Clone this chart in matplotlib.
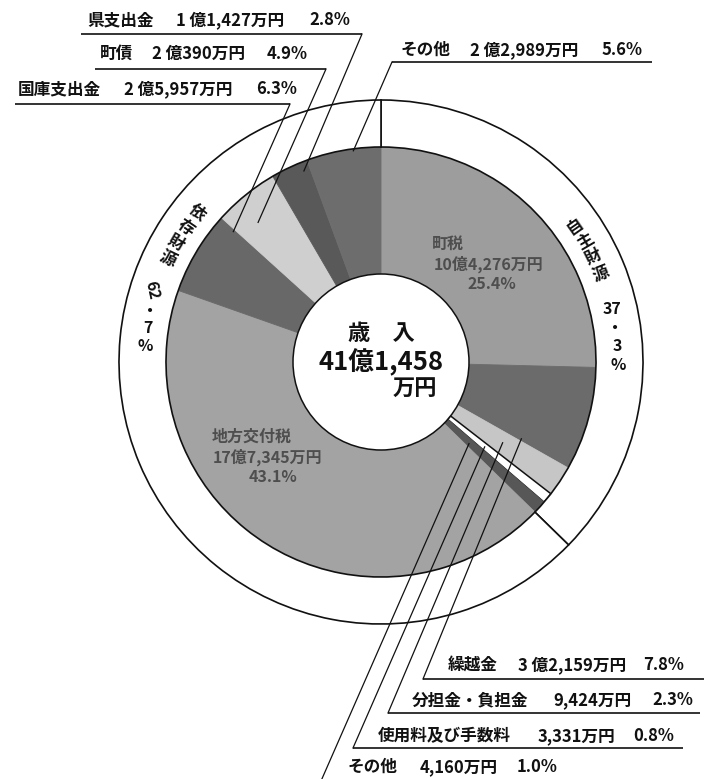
import numpy as np
import matplotlib
matplotlib.use('Agg')
import matplotlib.pyplot as plt
from matplotlib.patches import Circle

plt.rcParams['font.family'] = ['Noto Sans CJK JP', 'DejaVu Sans']

# ---------------- data ----------------
categories = ['町税', '繰越金', '分担金・負担金', '使用料及び手数料', 'その他',
              '地方交付税', '国庫支出金', '町債', '県支出金', 'その他']
amounts = ['10億4,276万円', '3 億2,159万円', '9,424万円', '3,331万円', '4,160万円',
           '17億7,345万円', '2 億5,957万円', '2 億390万円', '1 億1,427万円', '2 億2,989万円']
shares = [25.4, 7.8, 2.3, 0.8, 1.0, 43.1, 6.3, 4.9, 2.8, 5.6]
groups = ['自主財源', '依存財源']
group_shares = [37.3, 62.7]
center_title = '歳　入'
center_total = ['41億1,458', '万円']
colors = ['#9d9d9d', '#6b6b6b', '#c6c6c6', '#ffffff', '#575757',
          '#a3a3a3', '#686868', '#cfcfcf', '#595959', '#6d6d6d']

# ---------------- layout ----------------
W, H = 704, 779
fig = plt.figure(figsize=(W / 100, H / 100), dpi=100)
ax = fig.add_axes([0, 0, 1, 1])


def Y(y):  # pixel row -> data y
    return H - y


cx, cy = 381, Y(362)
R_in, R_pie, R_ring = 88, 215, 262

wedges, _ = ax.pie(shares, colors=colors, startangle=90, counterclock=False,
                   radius=R_pie, center=(cx, cy),
                   wedgeprops=dict(width=R_pie - R_in, linewidth=0.6))
for w, c in zip(wedges, colors):
    if c == '#ffffff':
        w.set_edgecolor('#111111')
        w.set_linewidth(1.1)
    else:
        w.set_edgecolor(c)

ring, _ = ax.pie(group_shares, colors=['white', 'white'], startangle=90,
                 counterclock=False, radius=R_ring, center=(cx, cy),
                 wedgeprops=dict(width=R_ring - R_pie, edgecolor='#111111',
                                 linewidth=1.2))
ax.add_patch(Circle((cx, cy), R_in, facecolor='white', edgecolor='#111111',
                    linewidth=1.1, zorder=3))

# slice angle spans (clockwise from top, degrees)
bounds = np.concatenate([[0], np.cumsum(shares)]) / 100 * 360


def pt(theta_cw, r):
    t = np.radians(theta_cw)
    return cx + r * np.sin(t), cy + r * np.cos(t)


# ---------------- external labels ----------------
# idx: (text_y, name_x, amount_x, pct_x, underline(x0,x1,y) or None, start(x,y), frac, r)
ext = {
    1: (665, 448, 518, 643, (423, 704, 679), (423, 679), 0.97, 160),
    2: (700, 412, 553, 652, (388, 700, 713), (388, 713), 0.49, 146),
    3: (736, 378, 538, 633, (353, 683, 748), (353, 748), 0.52, 134),
    4: (767, 348, 420, 517, None, (321, 781), 0.60, 120),
    6: (89, 18, 124, 256, (15, 290, 104), (290, 104), 0.97, 197),
    7: (54, 100, 152, 267, (95, 326, 69), (326, 69), 0.37, 186),
    8: (20, 87, 176, 309, (81, 362, 34), (362, 34), 0.82, 206),
    9: (50, 401, 470, 602, (392, 652, 62), (392, 62), 0.63, 213),
}
fs_lab = 12
for i, (ty, nx, axx, px, ul, st, frac, r) in ext.items():
    kw = dict(fontsize=fs_lab, fontweight='bold', va='center', ha='left',
              color='#111111', zorder=6)
    ax.text(nx, Y(ty), categories[i], **kw)
    ax.text(axx, Y(ty), amounts[i], **kw)
    ax.text(px, Y(ty), f'{shares[i]:.1f}%', **kw)
    if ul is not None:
        ax.plot([ul[0], ul[1]], [Y(ul[2]), Y(ul[2])], color='#111111',
                lw=1.2, zorder=6, solid_capstyle='butt')
    th = bounds[i] + frac * (bounds[i + 1] - bounds[i])
    ex, ey = pt(th, r)
    ax.plot([st[0], ex], [Y(st[1]), ey], color='#111111', lw=0.9, zorder=6)

# ---------------- labels inside slices ----------------
inner_kw = dict(fontsize=11.5, fontweight='bold', color='#4e4e4e', va='center', zorder=5)
ax.text(432, Y(244), categories[0], ha='left', **inner_kw)
ax.text(489, Y(264), amounts[0], ha='center', **inner_kw)
ax.text(492, Y(284), f'{shares[0]:.1f}%', ha='center', **inner_kw)
ax.text(212, Y(437), categories[5], ha='left', **inner_kw)
ax.text(268, Y(457), amounts[5], ha='center', **inner_kw)
ax.text(273, Y(477), f'{shares[5]:.1f}%', ha='center', **inner_kw)

# ---------------- center ----------------
ax.text(cx, Y(333), center_title, ha='center', va='center', fontsize=16,
        fontweight='bold', color='#111111', zorder=5)
ax.text(cx, Y(362), center_total[0], ha='center', va='center', fontsize=18.5,
        fontweight='bold', color='#111111', zorder=5)
ax.text(437, Y(389), center_total[1], ha='right', va='center', fontsize=16,
        fontweight='bold', color='#111111', zorder=5)

# ---------------- ring (group) labels ----------------
r_txt = 237
ring_kw = dict(fontsize=12, fontweight='bold', color='#111111', ha='center',
               va='center', zorder=6)
# 自主財源 along right arc (clockwise)
for k, ch in enumerate(groups[0]):
    th = 55 + k * 4.4
    x, y = pt(th, r_txt)
    ax.text(x, y, ch, rotation=90 - th, **ring_kw)
# 依存財源 along left arc (counter-clockwise)
for k, ch in enumerate(groups[1]):
    th = 51 + k * 4.4
    x, y = pt(360 - th, r_txt)
    ax.text(x, y, ch, rotation=th - 90, **ring_kw)

num_kw = dict(ring_kw)
num_kw['fontsize'] = 11.5
g0 = f'{group_shares[0]:.1f}'.split('.')
g1 = f'{group_shares[1]:.1f}'.split('.')
ax.text(612, Y(309), g0[0], **num_kw)
ax.text(615, Y(328), '・', **num_kw)
ax.text(617, Y(346), g0[1], **num_kw)
ax.text(618, Y(365), '%', **num_kw)

ax.text(152, Y(290), g1[0], rotation=-78, **num_kw)
ax.text(150, Y(311), '・', **num_kw)
ax.text(148, Y(328), g1[1], **num_kw)
ax.text(145, Y(346), '%', **num_kw)

ax.set_xlim(0, W)
ax.set_ylim(0, H)
ax.set_aspect('equal')
ax.axis('off')
fig.savefig('out.png', dpi=100, facecolor='white')
